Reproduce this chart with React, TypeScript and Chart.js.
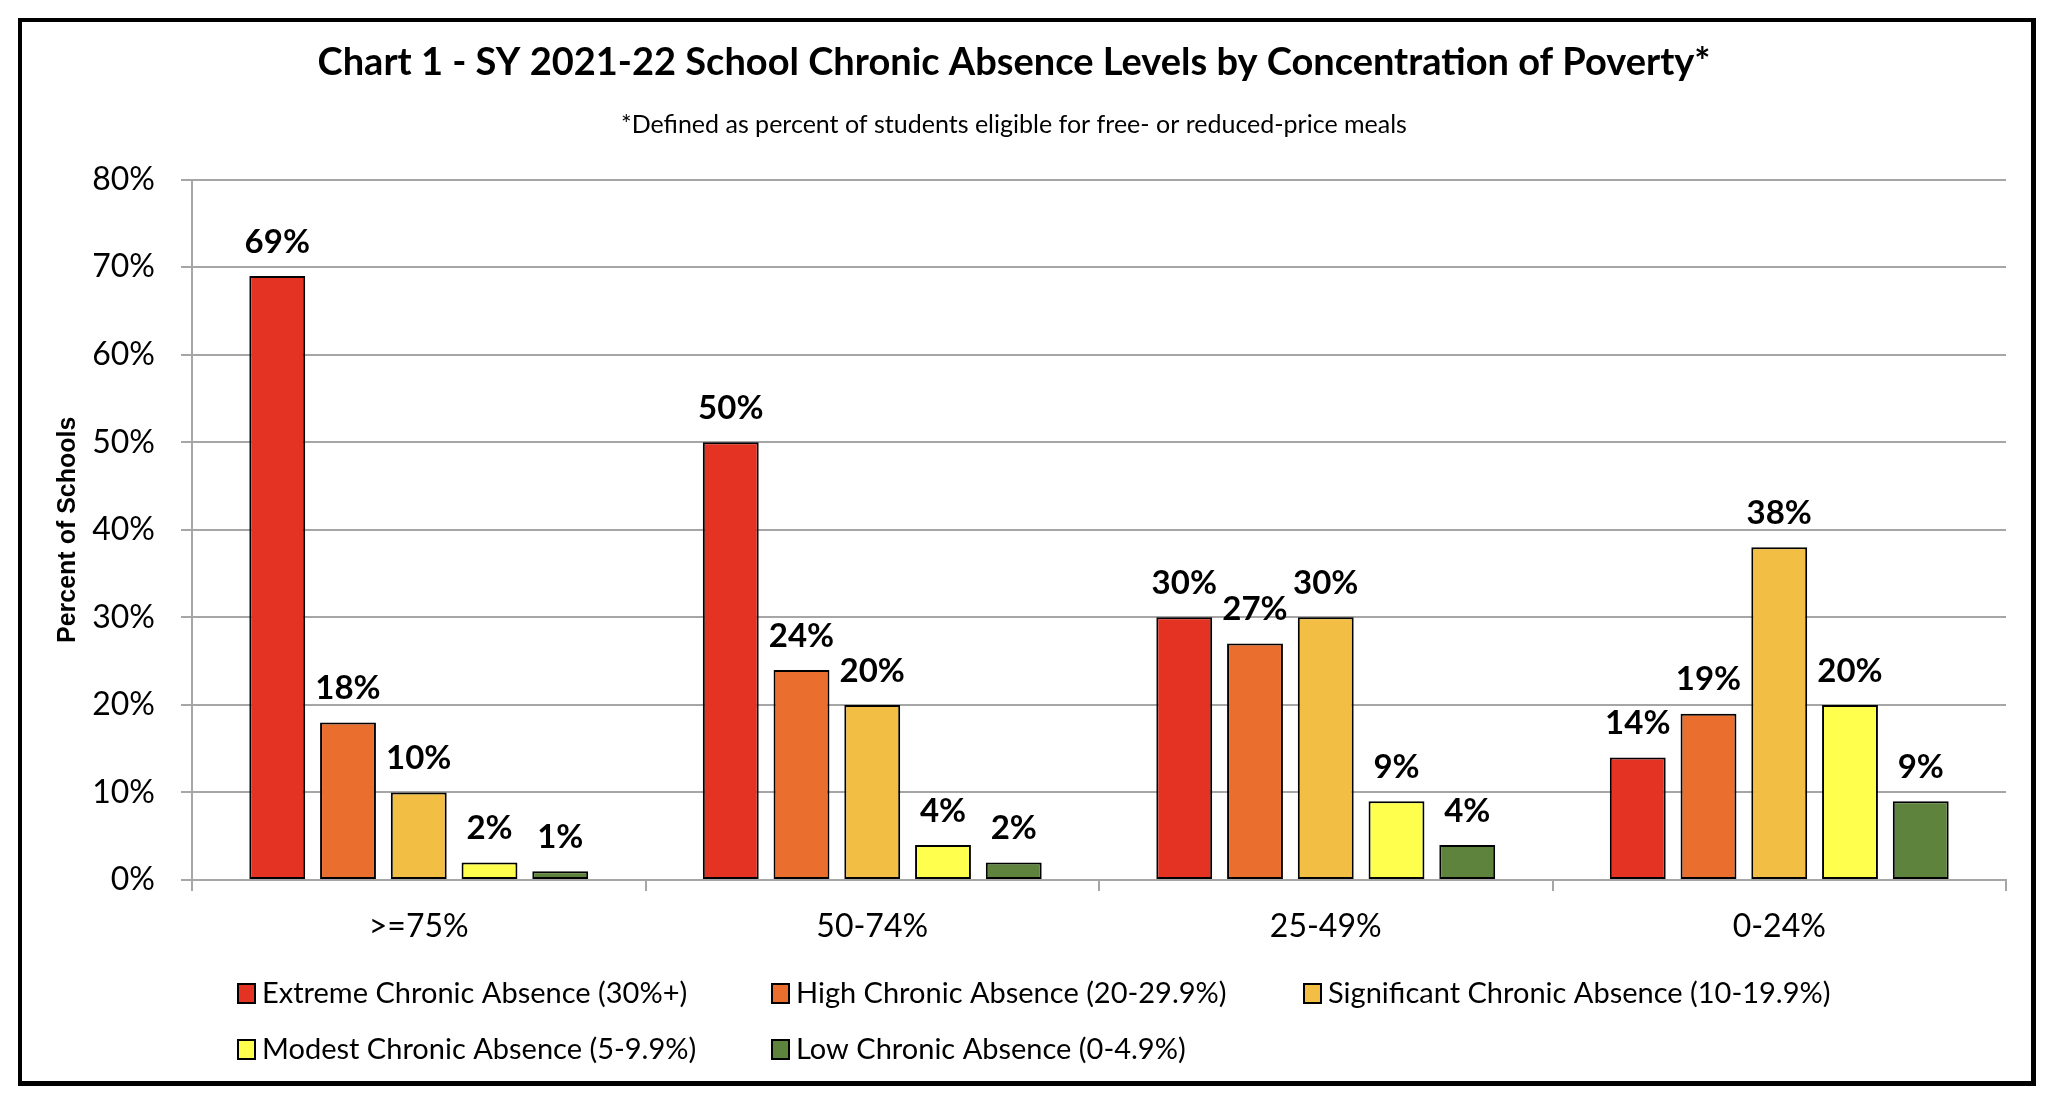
import React, { useEffect, useRef } from "react";
import { Chart, registerables } from "chart.js";

Chart.register(...registerables);

const categories = [">=75%", "50-74%", "25-49%", "0-24%"];
const seriesNames = [
  "Extreme Chronic Absence (30%+)",
  "High Chronic Absence (20-29.9%)",
  "Significant Chronic Absence (10-19.9%)",
  "Modest Chronic Absence (5-9.9%)",
  "Low Chronic Absence (0-4.9%)",
];
const extremeValues = [69, 50, 30, 14];
const highValues = [18, 24, 27, 19];
const significantValues = [10, 20, 30, 38];
const modestValues = [2, 4, 9, 20];
const lowValues = [1, 2, 4, 9];
const seriesColors = ["#E53323", "#EA6E2D", "#F2BE44", "#FFFF4D", "#5E833D"];
const yTicks = [0, 10, 20, 30, 40, 50, 60, 70, 80];

const FONT = "Lato, 'Open Sans', sans-serif";

const dataLabelPlugin = {
  id: "dataLabels",
  afterDatasetsDraw(chart: any) {
    const ctx = chart.ctx;
    ctx.save();
    ctx.font = `bold 33px ${FONT}`;
    ctx.fillStyle = "#000";
    ctx.textAlign = "center";
    ctx.textBaseline = "middle";
    chart.data.datasets.forEach((ds: any, i: number) => {
      const meta = chart.getDatasetMeta(i);
      meta.data.forEach((bar: any, j: number) => {
        ctx.fillText(ds.data[j] + "%", bar.x, bar.y - 34);
      });
    });
    ctx.restore();
  },
};

const gridLegendPlugin = {
  id: "gridLegend",
  afterDraw(chart: any) {
    const ctx = chart.ctx;
    const area = chart.chartArea;
    const cols = [46, 580, 1112];
    const rows = [113, 169];
    ctx.save();
    ctx.font = `29px ${FONT}`;
    ctx.textAlign = "left";
    ctx.textBaseline = "middle";
    chart.data.datasets.forEach((ds: any, i: number) => {
      const col = i % 3;
      const row = Math.floor(i / 3);
      const x = area.left + cols[col];
      const y = area.bottom + rows[row];
      ctx.fillStyle = ds.backgroundColor;
      ctx.fillRect(x, y - 9, 17, 19);
      ctx.strokeStyle = "#000";
      ctx.lineWidth = 2;
      ctx.strokeRect(x, y - 9, 17, 19);
      ctx.fillStyle = "#000";
      ctx.fillText(ds.label, x + 24, y + 1);
    });
    ctx.restore();
  },
};

export default function App() {
  const canvasRef = useRef<HTMLCanvasElement | null>(null);

  useEffect(() => {
    if (!canvasRef.current) return;
    const values = [extremeValues, highValues, significantValues, modestValues, lowValues];
    const chart = new Chart(canvasRef.current, {
      type: "bar",
      data: {
        labels: categories,
        datasets: seriesNames.map((name, i) => ({
          label: name,
          data: values[i],
          backgroundColor: seriesColors[i],
          borderColor: "#000",
          borderWidth: 2,
          borderSkipped: false,
          categoryPercentage: 0.78,
          barPercentage: 0.79,
        })),
      },
      options: {
        animation: false,
        responsive: true,
        maintainAspectRatio: false,
        layout: { padding: { left: 0, right: 25, top: 0, bottom: 111 } },
        plugins: {
          legend: { display: false },
          tooltip: { enabled: false },
          title: {
            display: true,
            text: "Chart 1 - SY 2021-22 School Chronic Absence Levels by Concentration of Poverty*",
            color: "#000",
            font: { family: FONT, size: 38, weight: "bold" },
            padding: { top: 18, bottom: 24 },
          },
          subtitle: {
            display: true,
            text: "*Defined as percent of students eligible for free- or reduced-price meals",
            color: "#000",
            font: { family: FONT, size: 25 },
            padding: { top: 0, bottom: 40 },
          },
        },
        scales: {
          x: {
            grid: {
              display: true,
              drawOnChartArea: false,
              offset: true,
              color: "#A6A6A6",
              lineWidth: 2,
              tickLength: 11,
            },
            border: { color: "#A6A6A6", width: 2 },
            ticks: { color: "#000", font: { family: FONT, size: 32 }, padding: 16 },
            afterFit: (scale: any) => {
              scale.height = 90;
            },
          },
          y: {
            min: 0,
            max: 80,
            afterBuildTicks: (scale: any) => {
              scale.ticks = yTicks.map((v) => ({ value: v }));
            },
            ticks: {
              color: "#000",
              font: { family: FONT, size: 32 },
              padding: 26,
              callback: (v: any) => v + "%",
            },
            grid: { color: "#A6A6A6", lineWidth: 2, tickLength: 11 },
            border: { color: "#A6A6A6", width: 2 },
            title: {
              display: true,
              text: "Percent of Schools",
              color: "#000",
              font: { family: "'Liberation Sans', Arial, sans-serif", size: 25, weight: "bold" },
              padding: { top: 31, bottom: 0 },
            },
            afterFit: (scale: any) => {
              scale.width = 170;
            },
          },
        },
      },
      plugins: [dataLabelPlugin, gridLegendPlugin],
    });
    return () => chart.destroy();
  }, []);

  return (
    <div style={{ position: "absolute", left: 0, top: 0, width: 2048, height: 1105, background: "#fff" }}>
      <div
        style={{
          position: "absolute",
          left: 18,
          top: 18,
          width: 2018,
          height: 1068,
          boxSizing: "border-box",
          borderStyle: "solid",
          borderColor: "#000",
          borderWidth: "4px 5px 5px 4px",
          background: "#fff",
        }}
      >
        <div style={{ position: "relative", width: 2009, height: 1059 }}>
          <canvas ref={canvasRef} />
        </div>
      </div>
    </div>
  );
}
